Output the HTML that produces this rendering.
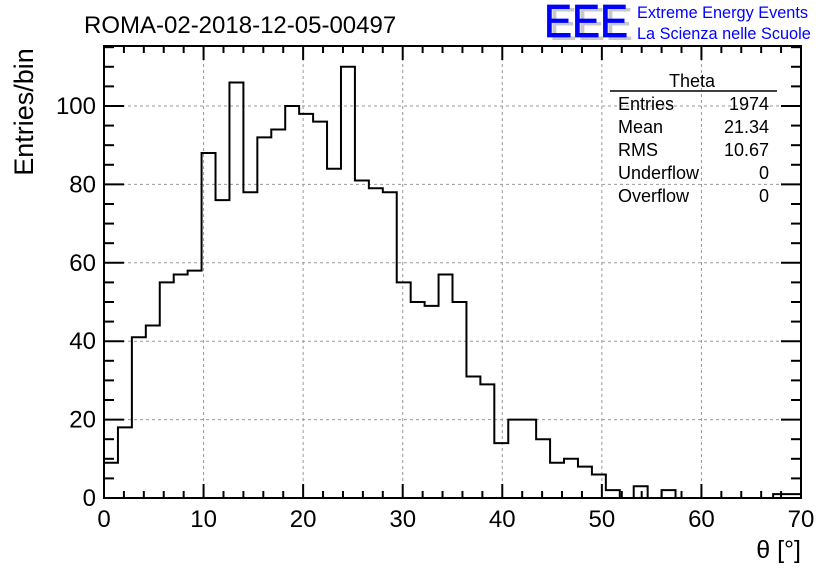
<!DOCTYPE html>
<html><head><meta charset="utf-8"><style>
body{margin:0;background:#fff;width:836px;height:572px;overflow:hidden;font-family:"Liberation Sans",sans-serif}
</style></head><body>
<svg id="c" width="836" height="572" xmlns="http://www.w3.org/2000/svg">
<rect width="836" height="572" fill="#fff"/>
<text x="84" y="33" font-size="24">ROMA-02-2018-12-05-00497</text>
<text x="549" y="40" font-size="46" fill="#c8c8c8" textLength="84" lengthAdjust="spacingAndGlyphs">EEE</text>
<text x="544" y="37" font-size="46" fill="#0000ff" stroke="#0000ff" stroke-width="0.8" textLength="84" lengthAdjust="spacingAndGlyphs">EEE</text>
<text x="637" y="18" font-size="16.3" fill="#0000ff">Extreme Energy Events</text>
<text x="637" y="39" font-size="16.3" fill="#0000ff">La Scienza nelle Scuole</text>
<g id="grid"></g>
<g id="ticks"></g>
<path id="hist" fill="none" stroke="#000" stroke-width="2"/>
<rect x="104" y="46" width="697" height="452" fill="none" stroke="#000" stroke-width="2"/>
<text transform="translate(33,112) rotate(-90)" font-size="27" text-anchor="middle">Entries/bin</text>
<text x="801" y="558" font-size="25" text-anchor="end">θ [°]</text>
<g font-size="18">
<text x="692" y="87" text-anchor="middle">Theta</text>
<line x1="610" y1="91" x2="777" y2="91" stroke="#000" stroke-width="1.5"/>
<text x="618" y="110">Entries</text><text x="769" y="110" text-anchor="end">1974</text>
<text x="618" y="133">Mean</text><text x="769" y="133" text-anchor="end">21.34</text>
<text x="618" y="156">RMS</text><text x="769" y="156" text-anchor="end">10.67</text>
<text x="618" y="179">Underflow</text><text x="769" y="179" text-anchor="end">0</text>
<text x="618" y="202">Overflow</text><text x="769" y="202" text-anchor="end">0</text>
</g>
</svg>
<script>
const counts=[9,18,41,44,55,57,58,88,76,106,78,92,94,100,98,96,84,110,81,79,78,55,50,49,57,50,31,29,14,20,20,15,9,10,8,6,2,0,3,0,2,0,0,0,0,0,0,0,1,1];
const xTicks=[0,10,20,30,40,50,60,70];
const yTicks=[0,20,40,60,80,100];
const binW=1.4, xMin=0, xMax=70, yMax=115.3;
const X=v=>104+(v-xMin)/(xMax-xMin)*697;
const Y=v=>498-v/yMax*452;
const NS="http://www.w3.org/2000/svg";
const grid=document.getElementById('grid'), ticks=document.getElementById('ticks'), svg=document.getElementById('c');
function ln(p,x1,y1,x2,y2,st,w,d){const l=document.createElementNS(NS,'line');l.setAttribute('x1',x1);l.setAttribute('y1',y1);l.setAttribute('x2',x2);l.setAttribute('y2',y2);l.setAttribute('stroke',st);l.setAttribute('stroke-width',w);if(d)l.setAttribute('stroke-dasharray',d);p.appendChild(l);return l;}
function tx(x,y,s,a){const t=document.createElementNS(NS,'text');t.setAttribute('x',x);t.setAttribute('y',y);t.setAttribute('font-size',24);t.setAttribute('text-anchor',a);t.textContent=s;svg.appendChild(t);return t;}
xTicks.forEach(v=>{if(v>xMin&&v<xMax)ln(grid,X(v),46,X(v),498,'#999',1,'3,3');
 const t=tx(X(v),527,v,'middle');
 
 });
yTicks.forEach(v=>{if(v>0)ln(grid,104,Y(v),801,Y(v),'#999',1,'3,3');
 const t=tx(96,Y(v)+8,v,'end');
 
 });
for(let v=0;v<=xMax;v+=2){const big=v%10===0;ln(ticks,X(v),498,X(v),498-(big?14:7),'#000',2);ln(ticks,X(v),46,X(v),46+(big?14:7),'#000',2);}
for(let v=0;v<=yMax;v+=5){const big=v%20===0;ln(ticks,104,Y(v),104+(big?20:10),Y(v),'#000',2);ln(ticks,801,Y(v),801-(big?20:10),Y(v),'#000',2);}
let d='M'+X(0)+','+Y(counts[0]);
counts.forEach((c,i)=>{d+=' L'+X(i*binW)+','+Y(c)+' L'+X((i+1)*binW)+','+Y(c);});
document.getElementById('hist').setAttribute('d',d);
</script>
</body></html>
